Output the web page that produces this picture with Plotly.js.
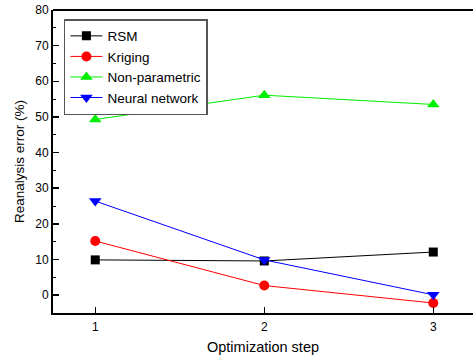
<!DOCTYPE html>
<html>
<head>
<meta charset="utf-8">
<script src="https://cdn.plot.ly/plotly-3.0.1.min.js"></script>
<style>html,body{margin:0;padding:0;overflow:hidden;background:#fff}</style>
</head>
<body>
<div id="chart" style="width:473px;height:358px"></div>
<script>
const steps = [1, 2, 3];
const rsm = [9.9, 9.6, 12.1];
const kriging = [15.2, 2.7, -2.2];
const nonParametric = [49.3, 56.1, 53.5];
const neuralNetwork = [26.4, 9.9, 0.1];
const seriesNames = ['RSM', 'Kriging', 'Non-parametric', 'Neural network'];
const yTicks = [0, 10, 20, 30, 40, 50, 60, 70, 80];

const colors = ['#000000', '#ff0000', '#00ee00', '#0000ff'];
const symbols = ['square', 'circle', 'triangle-up', 'triangle-down'];
const sizes = [9, 10, 11, 11];
const data = [rsm, kriging, nonParametric, neuralNetwork].map((ys, i) => ({
  x: steps, y: ys, name: seriesNames[i], type: 'scatter', mode: 'lines+markers',
  line: {color: colors[i], width: 1},
  marker: {color: colors[i], symbol: symbols[i], size: sizes[i]}
}));

const font = 'Liberation Sans, Arial, sans-serif';
const layout = {
  width: 473, height: 358,
  margin: {l: 53, r: 0, t: 10, b: 45},
  paper_bgcolor: '#fff', plot_bgcolor: '#fff',
  font: {family: font, color: '#000'},
  showlegend: true,
  legend: {
    x: 0.026, y: 0.97, xanchor: 'left', yanchor: 'top',
    bordercolor: '#555', borderwidth: 1.5, bgcolor: '#fff',
    font: {size: 13.5, family: font}, itemwidth: 32, tracegroupgap: 0
  },
  xaxis: {
    range: [0.75, 3.235], tickvals: steps, ticktext: steps.map(String),
    ticks: 'inside', ticklen: 6, tickwidth: 1.5, tickcolor: '#000',
    showline: true, linecolor: '#000', linewidth: 2, showgrid: false, zeroline: false,
    tickfont: {size: 12}, ticklabelstandoff: 2,
    title: {text: 'Optimization step', font: {size: 14.5}, standoff: 8}
  },
  yaxis: {
    range: [-5, 80], tickvals: yTicks,
    ticks: 'inside', ticklen: 6, tickwidth: 1.5, tickcolor: '#000',
    minor: {dtick: 5, ticks: 'inside', ticklen: 3, tickwidth: 1, tickcolor: '#000', showgrid: false},
    showline: true, linecolor: '#000', linewidth: 2, showgrid: false, zeroline: false,
    tickfont: {size: 12},
    title: {text: 'Reanalysis error (%)', font: {size: 13.5}, standoff: 8}
  },
  shapes: [{type: 'line', xref: 'paper', yref: 'paper', x0: 0, x1: 1, y0: 1, y1: 1,
            line: {color: '#000', width: 2}}]
};
Plotly.newPlot('chart', data, layout, {displayModeBar: false, staticPlot: true});
</script>
</body>
</html>
